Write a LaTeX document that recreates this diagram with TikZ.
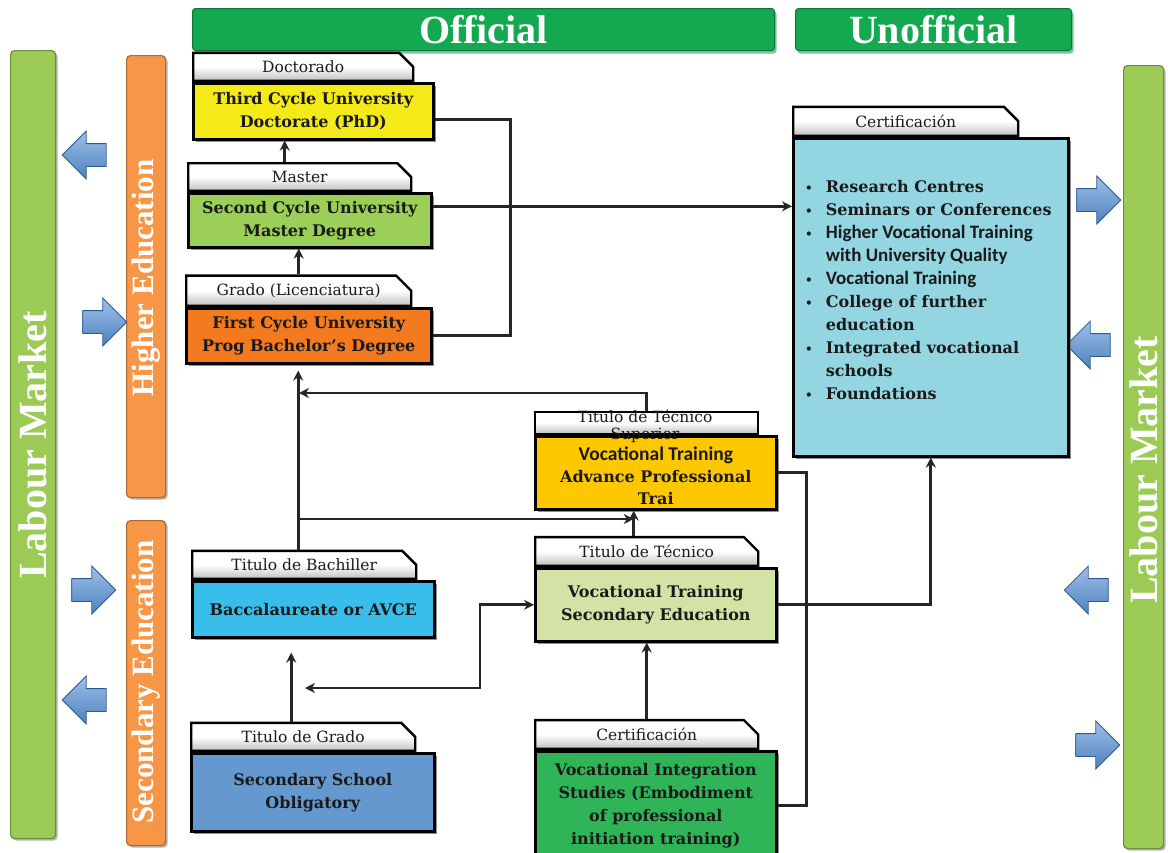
\documentclass[tikz,border=0pt]{standalone}
\usepackage{fontspec}
\setmainfont{DejaVu Serif}
\newfontfamily\lserif{Liberation Serif}
\newfontfamily\carl{Carlito}
\usetikzlibrary{shapes.misc,shapes.arrows,shadows,arrows.meta}
\definecolor{hgreen}{HTML}{14A950}
\definecolor{lmgreen}{HTML}{9BCB55}
\definecolor{barorange}{HTML}{F79646}
\definecolor{cdoc}{HTML}{F3EA17}
\definecolor{cms}{HTML}{9BCF57}
\definecolor{cgr}{HTML}{F37A1F}
\definecolor{ctsup}{HTML}{FDC800}
\definecolor{ctec}{HTML}{D3E3A6}
\definecolor{cba}{HTML}{39BDEA}
\definecolor{cgt}{HTML}{6598CF}
\definecolor{ccb}{HTML}{2FB457}
\definecolor{ccert}{HTML}{93D6E2}
\definecolor{ablue}{HTML}{4F81BD}
\definecolor{ablueL}{HTML}{9CC0EA}
\definecolor{ablueD}{HTML}{2C5A92}
\definecolor{txt}{HTML}{1A1A1A}
\newcommand\lbul{{\normalfont\fontsize{12}{12}\selectfont\bfseries •}}
\begin{document}
\begin{tikzpicture}[x=1pt,y=-1pt,
  hdr/.style={fill=hgreen, draw=hgreen!70!black, line width=1pt, rounded corners=3pt,
    text=white, inner sep=0pt, anchor=north west,
    font={\lserif\bfseries\fontsize{40}{40}\selectfont},
    drop shadow={shadow xshift=2pt,shadow yshift=-3pt,fill=hgreen!60,opacity=1}},
  vbar/.style={draw=#1!70!black, line width=1.2pt, fill=#1, rounded corners=4pt, inner sep=0pt,
    drop shadow={shadow xshift=2pt,shadow yshift=-2pt,fill=black!50,opacity=.6}},
  bartext/.style={text=white, inner sep=0pt, rotate=90},
  barrowR/.style={single arrow, inner xsep=0pt, inner ysep=11pt, minimum height=44pt,
    single arrow head extend=12.5pt, top color=ablueL, bottom color=ablue, draw=ablueD, line width=0.8pt},
  barrowL/.style={barrowR, shape border rotate=180},
  tab/.style={chamfered rectangle, chamfered rectangle corners=north east,
    chamfered rectangle xsep=8pt, chamfered rectangle ysep=8pt,
    draw=black, line width=2.4pt, top color=white, bottom color=black!25, middle color=white,
    minimum height=22pt, inner sep=0pt, anchor=south west, text=txt,
    font={\fontsize{15.5}{17}\selectfont}},
  box/.style={draw=black, line width=2.6pt, fill=#1, inner sep=0pt, anchor=north west,
    align=center, text=txt, font={\fontsize{16}{23}\selectfont\bfseries},
    drop shadow={shadow xshift=3pt,shadow yshift=-3pt,fill=black!55,opacity=.8}},
  conn/.style={line width=2.8pt, draw=black!85},
  arr/.style={conn, -{Stealth[length=10pt,width=10pt]}},
  arrboth/.style={conn, {Stealth[length=10pt,width=10pt]}-{Stealth[length=10pt,width=10pt]}}
]
\useasboundingbox (0,0) rectangle (1168,852);

% header bars
\node[hdr, minimum width=582pt, minimum height=42pt] (off) at (192,8) {Official};
\node[hdr, minimum width=276pt, minimum height=42pt] (unoff) at (795,8) {Unofficial};

% vertical bars
\node[vbar=lmgreen, minimum width=45pt, minimum height=788pt, anchor=north west] (lml) at (10,50) {};
\node[bartext, font={\lserif\bfseries\fontsize{40}{40}\selectfont}] (lmlt) at (33,445) {Labour Market};
\node[vbar=lmgreen, minimum width=40pt, minimum height=783pt, anchor=north west] (lmr) at (1123,65) {};
\node[bartext, font={\lserif\bfseries\fontsize{40}{40}\selectfont}] (lmrt) at (1144,470) {Labour Market};
\node[vbar=barorange, minimum width=39pt, minimum height=442pt, anchor=north west] (he) at (126,55) {};
\node[bartext, font={\lserif\bfseries\fontsize{31}{31}\selectfont}] (het) at (146,278) {Higher Education};
\node[vbar=barorange, minimum width=39pt, minimum height=325pt, anchor=north west] (se) at (126,520) {};
\node[bartext, font={\lserif\bfseries\fontsize{31}{31}\selectfont}] (set) at (146,682) {Secondary Education};

% blue arrows
\node[barrowL] (al1) at (90,155) {};
\node[barrowR] (al2) at (99,322) {};
\node[barrowR] (al3) at (88,590) {};
\node[barrowL] (al4) at (90,700) {};
\node[barrowR] (ar1) at (1093,200) {};
\node[barrowL] (ar2) at (1094,345) {};
\node[barrowL] (ar3) at (1092,590) {};
\node[barrowR] (ar4) at (1092,745) {};

% boxes
\node[box=cdoc, minimum width=240pt, minimum height=56pt] (doc) at (192,82) {Third Cycle University\\Doctorate (PhD)};
\node[tab, minimum width=220pt] (doctab) at (192,82) {Doctorado};

\node[box=cms, minimum width=243pt, minimum height=54pt] (ms) at (187,192) {Second Cycle University\\Master Degree};
\node[tab, minimum width=223pt] (mstab) at (187,192) {Master};

\node[box=cgr, minimum width=245pt, minimum height=55pt] (gr) at (185,307) {First Cycle University\\Prog Bachelor’s Degree};
\node[tab, minimum width=225pt] (grtab) at (185,307) {Grado (Licenciatura)};

\node[box=ctsup, minimum width=241pt, minimum height=73pt, font={\fontsize{16}{22}\selectfont\bfseries}] (tsup) at (534,435)
  {\\[-2pt]{\carl\fontsize{19.5}{22}\selectfont Vocational Training}\\Advance Professional\\Trai};
\node[tab, minimum width=223pt] (tsuptab) at (534,435) {};
\node[align=center, inner sep=0pt, text=txt, font={\fontsize{15.5}{17}\selectfont}] (tsuplab) at (645,426) {Titulo de Técnico\\Superior};

\node[box=ctec, minimum width=241pt, minimum height=73pt] (tec) at (534,567) {Vocational Training\\Secondary Education};
\node[tab, minimum width=223pt] (tectab) at (534,567) {Titulo de Técnico};

\node[box=cba, minimum width=242pt, minimum height=56pt] (ba) at (191,580) {Baccalaureate or AVCE};
\node[tab, minimum width=224pt] (batab) at (191,580) {Titulo de Bachiller};

\node[box=cgt, minimum width=243pt, minimum height=78pt] (gt) at (190,752) {Secondary School\\Obligatory};
\node[tab, minimum width=224pt] (gttab) at (190,752) {Titulo de Grado};

\node[box=ccb, minimum width=241pt, minimum height=108pt] (cb) at (534,750)
  {Vocational Integration\\Studies (Embodiment\\of professional\\initiation training)};
\node[tab, minimum width=223pt, minimum height=24pt] (cbtab) at (534,750) {Certificación};

\node[box=ccert, minimum width=275pt, minimum height=318pt] (cert) at (792,137) {};
\node[tab, minimum width=225pt, minimum height=29pt] (certtab) at (792,137) {Certificación};
\node[anchor=north west, inner sep=0pt, text=txt, font={\fontsize{16}{23}\selectfont\bfseries}] (certlist) at (805,176)
 {\begin{tabular}{@{}l@{\hspace{13pt}}l@{}}
  \lbul & Research Centres\\
  \lbul & Seminars or Conferences\\
  \lbul & {\carl\fontsize{19}{23}\selectfont Higher Vocational Training}\\
   & {\carl\fontsize{19}{23}\selectfont with University Quality}\\
  \lbul & {\carl\fontsize{19}{23}\selectfont Vocational Training}\\
  \lbul & College of further\\
   & education\\
  \lbul & Integrated vocational\\
   & schools\\
  \lbul & Foundations
 \end{tabular}};

% connectors
\coordinate (d1) at ([yshift=-8pt]doc.east);
\draw[conn] (d1) -- ++(76,0) |- (gr.east);
\coordinate (m1) at ([yshift=14pt]ms.east);
\draw[arr] (m1) -- (m1 -| cert.west);
\coordinate (m2) at ([xshift=-15pt]mstab.north);
\draw[arr] (m2) -- (m2 |- doc.south);
\draw[arr] (grtab.north) -- (grtab.north |- ms.south);
\coordinate (b1) at ([xshift=-6pt]batab.north);
\draw[arr, shorten >=6pt] (b1) -- (b1 |- gr.south);
\coordinate (j1) at (297,519);
\coordinate (t1) at ([xshift=-13pt]tectab.north);
\draw[arr] (t1) -- (t1 |- tsup.south);
\draw[arr] (j1) -- (j1 -| t1);
\coordinate (j2) at (299,393);
\draw[arr] (tsuptab.north) |- (j2);
\coordinate (g1) at ([xshift=-12pt]gttab.north);
\draw[arr, shorten >=14pt] (g1) -- (g1 |- ba.south);
\coordinate (j3) at (305,688);
\coordinate (j4) at (480,688);
\draw[arrboth] (j3) -- (j4) |- (tec.west);
\draw[arr] (cbtab.north) -- (cbtab.north |- tec.south);
\draw[arr] (tec.east) -| (cert.south);
\draw[conn] (tsup.east) -- ++(29,0) |- (cb.east);
\end{tikzpicture}
\end{document}
